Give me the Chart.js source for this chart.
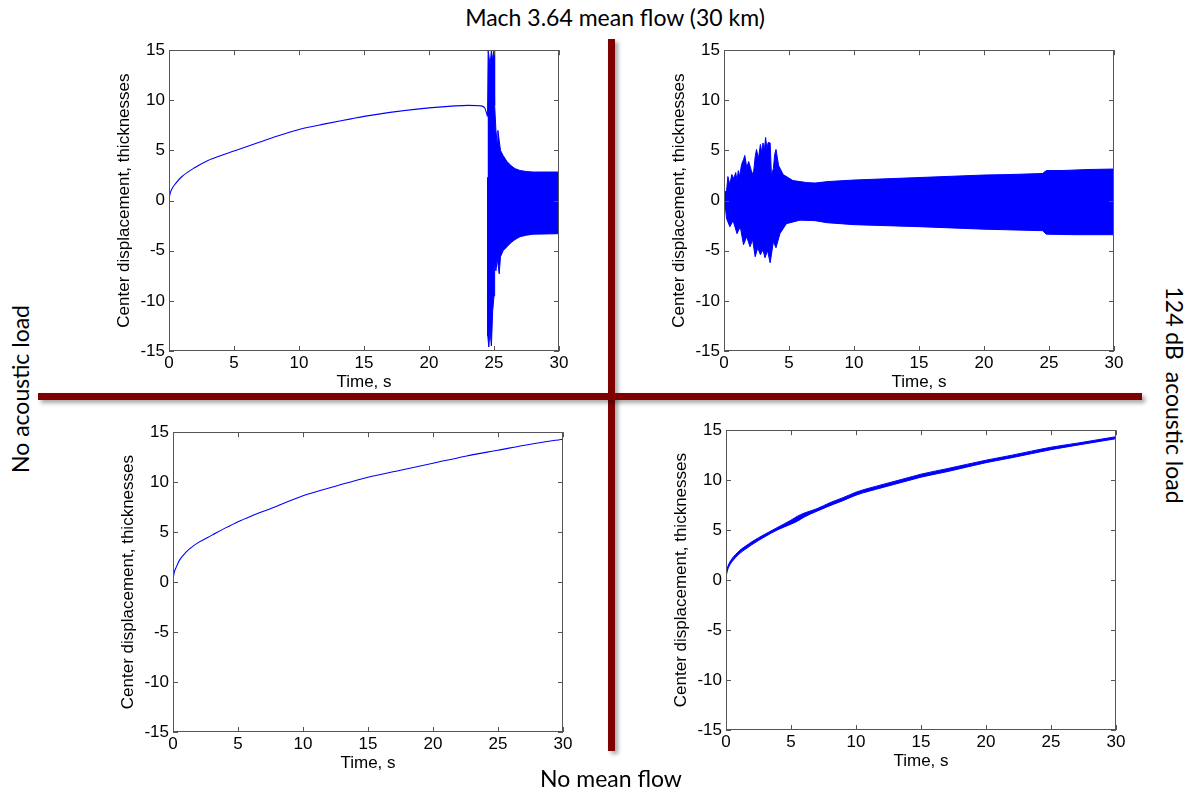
<!DOCTYPE html>
<html>
<head>
<meta charset="utf-8">
<script src="https://cdn.jsdelivr.net/npm/chart.js@4/dist/chart.umd.min.js"></script>
<style>
body{margin:0;background:#fff;}
#page{position:relative;width:1187px;height:792px;overflow:hidden;}
canvas{position:absolute;}
.lbl{position:absolute;font-family:Lato,"Open Sans",sans-serif;font-size:23px;color:#000;white-space:nowrap;transform:translate(-50%,-50%);}
.bar{position:absolute;background:#7f0000;box-shadow:3px 3px 4px rgba(0,0,0,0.35);}
</style>
</head>
<body>
<div id="page">
  <div class="bar" style="left:608px;top:39px;width:7px;height:712px;"></div>
  <div class="bar" style="left:38px;top:393px;width:1104px;height:7px;"></div>

  <canvas id="tl" width="475" height="360" style="left:99px;top:36px;"></canvas>
  <canvas id="tr" width="475" height="360" style="left:654px;top:36px;"></canvas>
  <canvas id="bl" width="475" height="359" style="left:103px;top:418px;"></canvas>
  <canvas id="br" width="475" height="359" style="left:656px;top:416px;"></canvas>

  <div class="lbl" style="left:615px;top:17px;">Mach 3.64 mean flow (30 km)</div>
  <div class="lbl" style="left:611px;top:778px;">No mean flow</div>
  <div class="lbl" style="left:20px;top:389px;transform:translate(-50%,-50%) rotate(-90deg);">No acoustic load</div>
  <div class="lbl" style="left:1175px;top:395px;transform:translate(-50%,-50%) rotate(90deg);">124 dB&nbsp; acoustic load</div>
</div>
<script>
const xTicks = [0,5,10,15,20,25,30];
const yTicks = [-15,-10,-5,0,5,10,15];

// top left: mean flow, no acoustic load
const tlCurveT = [0,0.05,0.2,0.5,1,2,3,4,5,6,7,8,10,12,14,15,17,20,22,23,24,24.3,24.45,24.5];
const tlCurveY = [0,0.5,1.1,1.7,2.4,3.3,4.0,4.5,4.95,5.4,5.85,6.3,7.1,7.65,8.15,8.4,8.8,9.25,9.45,9.5,9.45,9.2,8.6,8.4];
const tlUpT = [24.5,24.55,24.7,24.8,24.9,25.0,25.05,25.15,25.25,25.3,25.4,25.5,25.7,26,26.3,26.6,27,27.5,28,29,30];
const tlUpY = [8.4,15,13.5,15,14,15,9.5,7.0,5.6,7.0,6.0,5.0,4.5,3.9,3.5,3.2,3.0,2.9,2.85,2.85,2.85];
const tlLoT = [24.5,24.52,24.6,24.7,24.8,24.9,25.0,25.05,25.15,25.25,25.4,25.5,25.7,26,26.3,26.6,27,27.5,28,30];
const tlLoY = [2.3,-13.5,-14.6,-13,-14.5,-11,-9.5,-6.3,-7.0,-5.8,-7.3,-5.6,-5.0,-4.6,-4.2,-3.9,-3.6,-3.45,-3.35,-3.3];

// top right: mean flow, 124 dB acoustic load
const trUpT = [0,0.1,0.2,0.3,0.45,0.6,0.75,0.9,1.0,1.1,1.2,1.35,1.5,1.6,1.75,1.9,2.1,2.25,2.4,2.5,2.65,2.8,2.9,3.0,3.1,3.2,3.3,3.4,3.55,3.65,3.8,3.9,4.0,4.2,4.55,5.3,6.35,7,8,10,12,15,18,20,22,24.5,24.8,26,28,30];
const trUpY = [0.7,0.9,1.0,2.4,1.6,2.6,2.2,2.8,2.0,3.0,2.4,3.6,4.1,4.5,3.3,3.9,3.0,2.5,4.4,5.1,4.2,5.6,4.8,5.75,5.0,6.3,5.2,5.8,5.75,2.5,3.2,4.6,5.1,3.5,2.6,2.0,1.8,1.75,1.9,2.05,2.15,2.3,2.45,2.55,2.6,2.7,3.0,3.0,3.1,3.15];
const trLoT = [0,0.1,0.2,0.45,0.7,1.0,1.25,1.5,1.75,2.0,2.2,2.4,2.6,2.8,3.0,3.15,3.35,3.55,3.8,4.0,4.3,4.8,5.85,7,7.9,10,15,20,24.5,24.8,27,30];
const trLoY = [-1.0,-0.6,-1.8,-2.6,-2.0,-3.3,-2.6,-4.4,-3.6,-4.6,-3.9,-5.6,-4.7,-5.4,-4.9,-5.7,-5.0,-6.2,-4.1,-4.7,-3.3,-2.3,-1.95,-2.0,-2.2,-2.4,-2.6,-2.85,-3.0,-3.35,-3.4,-3.4];

// bottom left: no mean flow, no acoustic load
const blT = [0,0.1,0.25,0.5,1,1.5,2,3,4,5,6,7.5,10,12.5,15,17.5,20,22.5,25,27.5,30];
const blY = [0.3,1.0,1.5,2.2,3.0,3.55,4.0,4.7,5.4,6.05,6.6,7.35,8.65,9.6,10.5,11.2,11.9,12.6,13.2,13.8,14.3];

// bottom right: no mean flow, 124 dB acoustic load
const brT = [0,0.1,0.25,0.5,1,1.5,2,3,4,5,5.5,6,7,8,9,10,12,14,15,17,20,22,25,27,30];
const brUpY = [0.6,1.2,1.7,2.2,2.9,3.4,3.85,4.6,5.3,6.0,6.4,6.7,7.15,7.75,8.25,8.8,9.55,10.25,10.6,11.15,12.0,12.5,13.3,13.7,14.35];
const brLoY = [0.3,0.9,1.4,1.9,2.6,3.1,3.55,4.35,5.05,5.6,5.9,6.3,6.9,7.45,7.95,8.5,9.25,9.95,10.3,10.85,11.75,12.25,13.05,13.5,14.15];

function pts(ts, vs){
    return ts.map((t,i)=>({x:t,y:vs[i]}));
}

function lineSet(ts, vs){
    return {data:pts(ts,vs),borderColor:'#0000ff',borderWidth:1.1,pointRadius:0,fill:false,cubicInterpolationMode:'monotone'};
}

function bandSets(upT, upY, loT, loY, smooth){
    const mode = smooth ? 'monotone' : 'default';
    return [
        {data:pts(upT,upY),borderColor:'#0000ff',borderWidth:1,pointRadius:0,fill:false,cubicInterpolationMode:mode},
        {data:pts(loT,loY),borderColor:'#0000ff',borderWidth:1,pointRadius:0,fill:'-1',backgroundColor:'#0000ff',cubicInterpolationMode:mode}
    ];
}

const matlabFrame = {
    id:'matlabFrame',
    afterDatasetsDraw(chart){
        const {ctx, chartArea:a, scales:{x, y}} = chart;
        ctx.save();
        ctx.strokeStyle = '#555';
        ctx.lineWidth = 1;
        ctx.beginPath();
        xTicks.forEach(v=>{
            const px = Math.round(x.getPixelForValue(v))+0.5;
            ctx.moveTo(px,a.bottom); ctx.lineTo(px,a.bottom-5);
            ctx.moveTo(px,a.top); ctx.lineTo(px,a.top+5);
        });
        yTicks.forEach(v=>{
            const py = Math.round(y.getPixelForValue(v))+0.5;
            ctx.moveTo(a.left,py); ctx.lineTo(a.left+5,py);
            ctx.moveTo(a.right,py); ctx.lineTo(a.right-5,py);
        });
        ctx.stroke();
        ctx.strokeRect(Math.round(a.left)+0.5,Math.round(a.top)+0.5,Math.round(a.width)-1,Math.round(a.height)-1);
        ctx.restore();
    }
};

const tickFont = {family:'"Liberation Sans", Arial, sans-serif', size:17};

function makePanel(id, datasets){
    new Chart(document.getElementById(id),{
        type:'line',
        data:{datasets:datasets},
        options:{
            responsive:false,
            animation:false,
            layout:{padding:{top:10,right:15,left:0,bottom:0}},
            plugins:{legend:{display:false},tooltip:{enabled:false}},
            scales:{
                x:{
                    type:'linear',min:0,max:30,
                    afterFit(scale){ scale.height = 45; },
                    afterBuildTicks(scale){ scale.ticks = xTicks.map(v=>({value:v})); },
                    grid:{display:false,drawTicks:false},
                    border:{display:false},
                    ticks:{color:'#000',font:tickFont,padding:2,maxRotation:0},
                    title:{display:true,text:'Time, s',color:'#000',font:tickFont,padding:{top:0,bottom:3}}
                },
                y:{
                    min:-15,max:15,
                    afterFit(scale){ scale.width = 70; },
                    afterBuildTicks(scale){ scale.ticks = yTicks.map(v=>({value:v})); },
                    grid:{display:false,drawTicks:false},
                    border:{display:false},
                    ticks:{color:'#000',font:tickFont,padding:4},
                    title:{display:true,text:'Center displacement, thicknesses',color:'#000',font:tickFont,padding:{top:15,bottom:0}}
                }
            }
        },
        plugins:[matlabFrame]
    });
}

makePanel('tl',[lineSet(tlCurveT,tlCurveY)].concat(bandSets(tlUpT,tlUpY,tlLoT,tlLoY,false)));
makePanel('tr',bandSets(trUpT,trUpY,trLoT,trLoY,false));
makePanel('bl',[lineSet(blT,blY)]);
makePanel('br',bandSets(brT,brUpY,brT,brLoY,true));
</script>
</body>
</html>
